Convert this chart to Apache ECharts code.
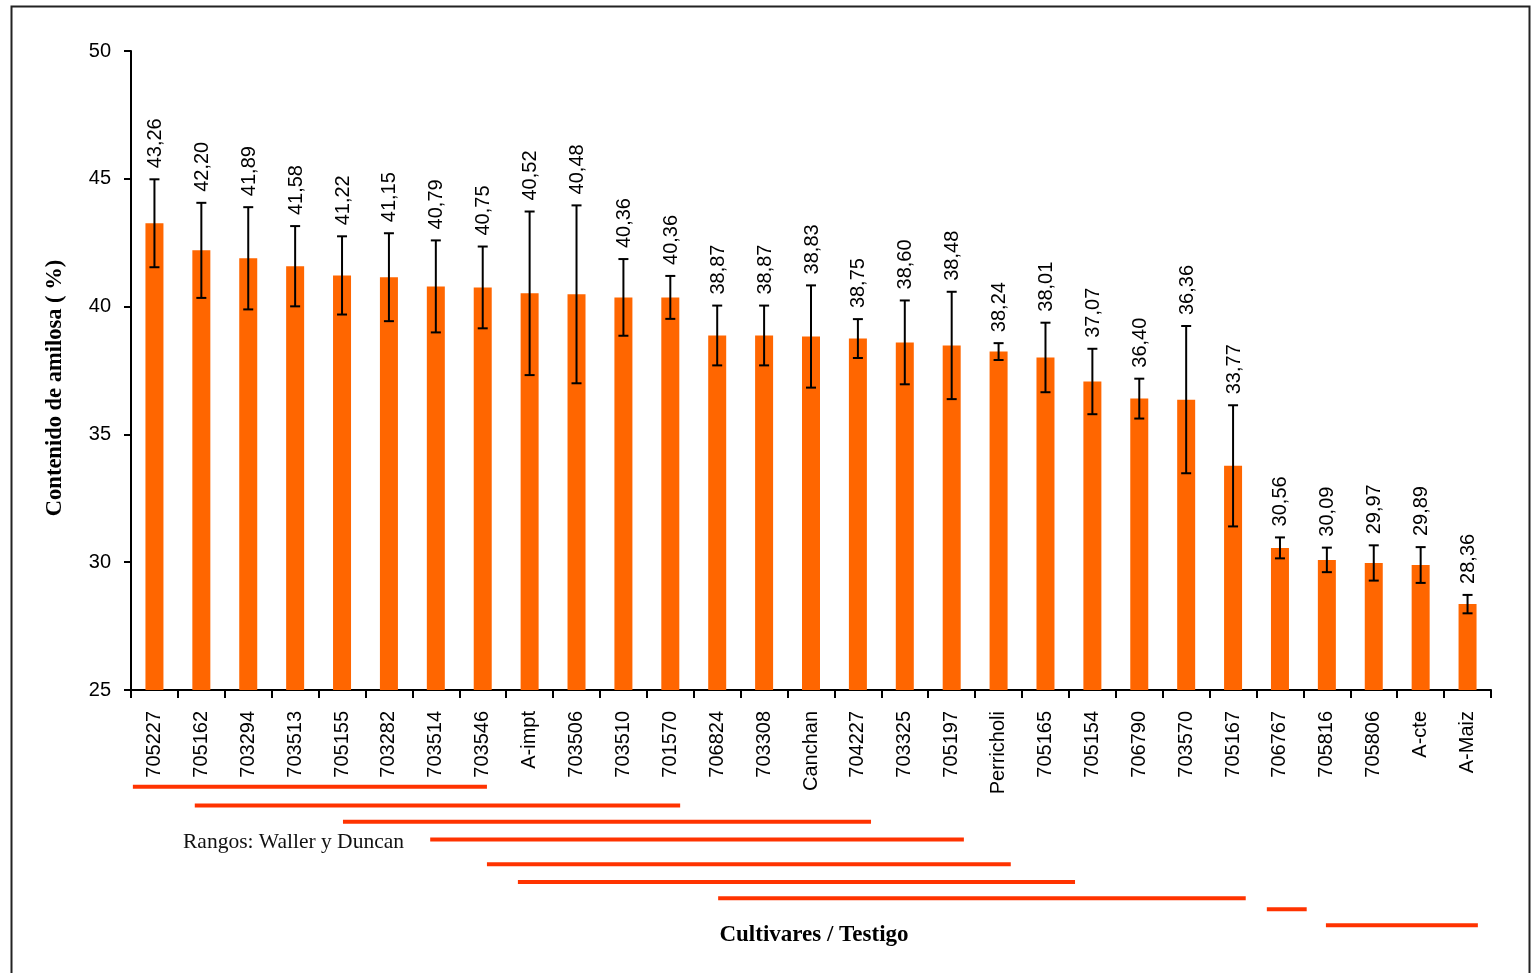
<!DOCTYPE html>
<html>
<head>
<meta charset="utf-8">
<title>Contenido de amilosa</title>
<script src="https://cdn.jsdelivr.net/npm/echarts@6/dist/echarts.min.js"></script>
<style>
  html, body { margin: 0; padding: 0; background: #fff; }
  #chart { width: 1531px; height: 973px; }
</style>
</head>
<body>
<div id="chart"></div>
<script>
// Cultivars / controls, ordered by amylose content
var categories = ['705227','705162','703294','703513','705155','703282','703514','703546','A-impt',
  '703506','703510','701570','706824','703308','Canchan','704227','703325','705197','Perricholi',
  '705165','705154','706790','703570','705167','706767','705816','705806','A-cte','A-Maiz'];

// Mean amylose content (%)
var amilosa = [43.26,42.20,41.89,41.58,41.22,41.15,40.79,40.75,40.52,
  40.48,40.36,40.36,38.87,38.87,38.83,38.75,38.60,38.48,38.24,
  38.01,37.07,36.40,36.36,33.77,30.56,30.09,29.97,29.89,28.36];

// Error (± around the mean)
var errores = [1.72,1.86,2.00,1.57,1.53,1.72,1.80,1.60,3.20,
  3.48,1.50,0.84,1.17,1.17,2.00,0.76,1.64,2.10,0.33,
  1.36,1.28,0.78,2.88,2.37,0.41,0.48,0.69,0.70,0.36];

// Y axis ticks
var yTicks = [25, 30, 35, 40, 45, 50];

// Ranking groups (Waller & Duncan): start / end on the category scale and row
var rangoInicio = [-0.46, 0.86, 4.02, 5.88, 7.09, 7.75, 12.02, 23.72, 24.98];
var rangoFin    = [ 7.09, 11.21, 15.28, 17.26, 18.26, 19.63, 23.27, 24.57, 28.22];
var rangoFila   = [0.4, 1.5, 2.45, 3.5, 4.95, 6.0, 6.95, 7.6, 8.55];

var chart = echarts.init(document.getElementById('chart'), null, { renderer: 'canvas' });

var barData = amilosa.map(function (v, i) { return [i, v, errores[i]]; });
var rangoData = rangoInicio.map(function (s, i) { return [s, rangoFin[i], rangoFila[i]]; });

function fmt(v) { return v.toFixed(2).replace('.', ','); }

var option = {
  animation: false,
  backgroundColor: '#ffffff',
  grid: [
    { left: 131, top: 51, width: 1360, height: 639, containLabel: false },
    { left: 131, top: 780, width: 1360, height: 153, containLabel: false }
  ],
  xAxis: [
    {
      type: 'category', gridIndex: 0, data: categories, boundaryGap: true,
      axisLine: { show: true, lineStyle: { color: '#000', width: 2 } },
      axisTick: { show: true, interval: 0, length: 8, lineStyle: { color: '#000', width: 2 } },
      axisLabel: {
        interval: 0, rotate: 90, margin: 21, color: '#000',
        fontFamily: 'Liberation Sans, Arial, sans-serif', fontSize: 20
      },
      splitLine: { show: false }
    },
    {
      type: 'value', gridIndex: 1, min: -0.5, max: 28.5, show: false
    }
  ],
  yAxis: [
    {
      type: 'value', gridIndex: 0, min: yTicks[0], max: yTicks[yTicks.length - 1], interval: 5,
      axisLine: { show: true, lineStyle: { color: '#000', width: 2 } },
      axisTick: { show: true, length: 7, lineStyle: { color: '#000', width: 2 } },
      axisLabel: {
        margin: 20, color: '#000',
        fontFamily: 'Liberation Sans, Arial, sans-serif', fontSize: 20
      },
      splitLine: { show: false }
    },
    {
      type: 'value', gridIndex: 1, min: 0, max: 9, inverse: true, show: false
    }
  ],
  series: [
    {
      type: 'bar', xAxisIndex: 0, yAxisIndex: 0,
      data: amilosa, barWidth: 18,
      itemStyle: { color: '#FF6600' },
      z: 2
    },
    {
      // error whiskers and value labels above them
      type: 'custom', xAxisIndex: 0, yAxisIndex: 0,
      data: barData,
      z: 5,
      renderItem: function (params, api) {
        var i = api.value(0), v = api.value(1), e = api.value(2);
        var top = api.coord([i, v + e]);
        var bot = api.coord([i, v - e]);
        var x = top[0], cap = 5;
        var ls = { stroke: '#000', lineWidth: 2 };
        return {
          type: 'group',
          children: [
            { type: 'line', shape: { x1: x, y1: top[1], x2: x, y2: bot[1] }, style: ls },
            { type: 'line', shape: { x1: x - cap, y1: top[1], x2: x + cap, y2: top[1] }, style: ls },
            { type: 'line', shape: { x1: x - cap, y1: bot[1], x2: x + cap, y2: bot[1] }, style: ls },
            {
              type: 'text', x: x + 1, y: top[1] - 11, rotation: Math.PI / 2,
              style: {
                text: fmt(v), x: 0, y: 0, align: 'left', verticalAlign: 'middle',
                fill: '#000', font: '20px "Liberation Sans", Arial, sans-serif'
              }
            }
          ]
        };
      }
    },
    {
      // ranking group bars beneath the axis
      type: 'custom', xAxisIndex: 1, yAxisIndex: 1,
      data: rangoData, clip: false,
      renderItem: function (params, api) {
        var a = api.coord([api.value(0), api.value(2)]);
        var b = api.coord([api.value(1), api.value(2)]);
        return {
          type: 'line',
          shape: { x1: a[0], y1: a[1], x2: b[0], y2: b[1] },
          style: { stroke: '#FF3300', lineWidth: 4 }
        };
      }
    }
  ],
  graphic: [
    {
      type: 'rect', left: 9, top: 4, z: -1,
      shape: { x: 0, y: 0, width: 1518, height: 985 },
      style: { fill: 'none', stroke: '#222', lineWidth: 2 }
    },
    {
      type: 'text', x: 55, y: 388, rotation: Math.PI / 2,
      style: {
        text: 'Contenido de amilosa ( %)', align: 'center', verticalAlign: 'middle',
        fill: '#000', font: 'bold 22.5px "Liberation Serif", "Times New Roman", serif'
      }
    },
    {
      type: 'text', x: 183, y: 842,
      style: {
        text: 'Rangos: Waller y Duncan', align: 'left', verticalAlign: 'middle',
        fill: '#111', font: '21.5px "Liberation Serif", "Times New Roman", serif'
      }
    },
    {
      type: 'text', x: 814, y: 935,
      style: {
        text: 'Cultivares / Testigo', align: 'center', verticalAlign: 'middle',
        fill: '#000', font: 'bold 23px "Liberation Serif", "Times New Roman", serif'
      }
    }
  ]
};

chart.setOption(option);
</script>
</body>
</html>
